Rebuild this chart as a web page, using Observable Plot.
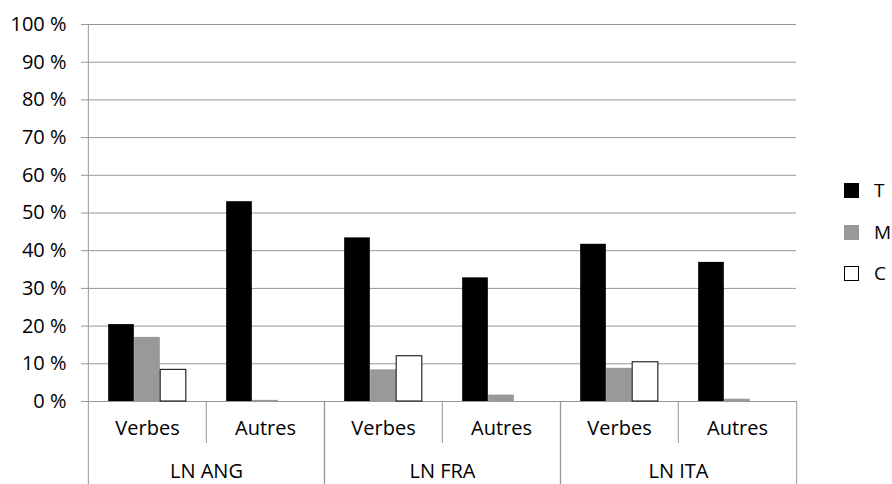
<!DOCTYPE html>
<html>
<head>
<meta charset="utf-8">
<script src="https://cdn.jsdelivr.net/npm/d3@7"></script>
<script src="https://cdn.jsdelivr.net/npm/@observablehq/plot@0.6"></script>
<style>
  body { margin: 0; background: #fff; }
  #wrap { position: relative; width: 892px; height: 484px; font-family: "Open Sans", sans-serif; }
  #legend { position: absolute; left: 844px; top: 0; }
  .item { position: absolute; left: 0; display: flex; align-items: center; white-space: nowrap; font-size: 19px; color: #000; transform: translateY(-50%); }
  .sw { width: 15px; height: 15px; box-sizing: border-box; margin-right: 15px; }
</style>
</head>
<body>
<div id="wrap"><div id="legend"></div></div>
<script>
const groups = ["LN ANG", "LN FRA", "LN ITA"];
const cats = ["Verbes", "Autres"];
const series = ["T", "M", "C"];
const valuesT = [20.4, 53.0, 43.4, 32.8, 41.7, 36.9];
const valuesM = [17.0, 0.3, 8.4, 1.7, 8.8, 0.6];
const valuesC = [8.4, 0, 12.0, 0, 10.4, 0];
const yTicks = [0, 10, 20, 30, 40, 50, 60, 70, 80, 90, 100];

const seriesValues = {T: valuesT, M: valuesM, C: valuesC};
const fills = {T: "#000000", M: "#999999", C: "#ffffff"};
const strokes = {T: "none", M: "none", C: "#000000"};
const gray = "#969696";

const W = 892, H = 484, mL = 87, mR = 95, mT = 24, mB = 83;
const bw = (W - mL - mR) / groups.length / cats.length;
const barW = 26;

const rows = [];
groups.forEach((g, gi) => cats.forEach((c, ci) => series.forEach(s => {
  rows.push({group: g, cat: c, series: s, value: seriesValues[s][gi * cats.length + ci]});
})));

const barMarks = series.map((s, i) => {
  const insetLeft = (bw - series.length * barW) / 2 + i * barW;
  return Plot.barY(rows.filter(d => d.series === s && d.value > 0), {
    fx: "group", x: "cat", y: "value",
    fill: fills[s], stroke: strokes[s], strokeWidth: 1,
    insetLeft, insetRight: bw - insetLeft - barW
  });
});

const chart = Plot.plot({
  width: W, height: H,
  marginLeft: mL, marginRight: mR, marginTop: mT, marginBottom: mB,
  style: {fontFamily: "Open Sans", fontSize: "20px", color: "#000", background: "#fff"},
  fx: {domain: groups, padding: 0, label: null},
  x: {domain: cats, padding: 0, label: null},
  y: {domain: [0, 100], label: null},
  marks: [
    Plot.ruleY(yTicks, {stroke: gray, strokeWidth: 1}),
    Plot.ruleX([{g: groups[0], c: cats[0]}], {fx: "g", x: "c", dx: -bw / 2, stroke: gray}),
    ...barMarks,
    Plot.axisY({ticks: yTicks, tickFormat: d => `${d} %`, tickSize: 7, tickPadding: 15, stroke: gray, fill: "#000", label: null}),
    Plot.axisX({ticks: [cats[0]], tickSize: mB, dx: -bw / 2, stroke: gray, fill: "none", label: null}),
    Plot.axisX({ticks: [cats[1]], tickSize: mB, dx: bw / 2, stroke: gray, fill: "none", label: null}),
    Plot.axisX({ticks: [cats[1]], tickSize: 42, dx: -bw / 2, stroke: gray, fill: "none", label: null}),
    Plot.axisX({tickSize: 0, tickPadding: 19, fill: "#000", label: null}),
    Plot.axisFx({anchor: "bottom", tickSize: 0, tickPadding: 62, fill: "#000", label: null})
  ]
});
document.getElementById("wrap").prepend(chart);

const legend = document.getElementById("legend");
const legendY = [190, 232, 273];
series.forEach((s, i) => {
  const item = document.createElement("div");
  item.className = "item";
  item.style.top = legendY[i] + "px";
  const sw = document.createElement("div");
  sw.className = "sw";
  sw.style.background = fills[s];
  if (strokes[s] !== "none") sw.style.border = "1px solid " + strokes[s];
  const lab = document.createElement("span");
  lab.textContent = s;
  item.append(sw, lab);
  legend.append(item);
});
</script>
</body>
</html>
